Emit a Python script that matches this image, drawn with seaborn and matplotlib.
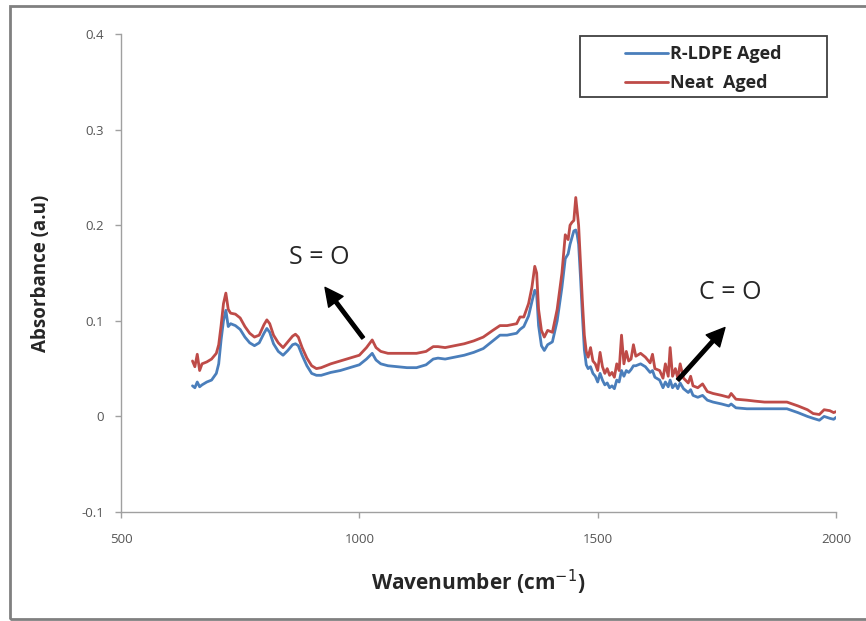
import numpy as np
import pandas as pd
import seaborn as sns
import matplotlib.pyplot as plt
from matplotlib.patches import Rectangle

wavenumber = [650, 655, 660, 665, 670, 680, 690, 700, 705, 710,
              715, 720, 725, 730, 740, 750, 760, 770, 780, 790,
              800, 806, 812, 820, 830, 840, 850, 860, 866, 872,
              880, 890, 900, 910, 920, 940, 960, 980, 1000, 1015,
              1027, 1035, 1045, 1060, 1080, 1100, 1120, 1140, 1155, 1165,
              1180, 1200, 1220, 1240, 1260, 1280, 1295, 1310, 1320, 1330,
              1337, 1345, 1355, 1362, 1368, 1372, 1376, 1382, 1388, 1395,
              1405, 1415, 1425, 1432, 1438, 1442, 1446, 1450, 1454, 1457,
              1460, 1464, 1468, 1472, 1476, 1480, 1485, 1490, 1495, 1500,
              1505, 1510, 1515, 1520, 1525, 1530, 1535, 1540, 1545, 1550,
              1555, 1560, 1565, 1570, 1575, 1580, 1590, 1600, 1610, 1615,
              1620, 1630, 1637, 1642, 1648, 1652, 1657, 1663, 1668, 1673,
              1680, 1690, 1695, 1700, 1710, 1720, 1730, 1742, 1760, 1775,
              1780, 1790, 1813, 1830, 1850, 1870, 1897, 1920, 1940, 1952,
              1965, 1975, 1987, 1995, 2000]

neat_aged = [0.058, 0.052, 0.065, 0.048, 0.055, 0.057, 0.060, 0.066, 0.075, 0.095,
             0.118, 0.129, 0.112, 0.108, 0.107, 0.103, 0.094, 0.087, 0.083, 0.085,
             0.096, 0.101, 0.097, 0.085, 0.077, 0.072, 0.078, 0.084, 0.086, 0.083,
             0.072, 0.061, 0.053, 0.050, 0.051, 0.055, 0.058, 0.061, 0.064, 0.072,
             0.080, 0.072, 0.068, 0.066, 0.066, 0.066, 0.066, 0.068, 0.073, 0.073,
             0.072, 0.074, 0.076, 0.079, 0.083, 0.090, 0.095, 0.095, 0.096, 0.097,
             0.104, 0.104, 0.118, 0.135, 0.157, 0.150, 0.112, 0.090, 0.083, 0.090,
             0.088, 0.112, 0.150, 0.190, 0.185, 0.200, 0.203, 0.205, 0.229, 0.215,
             0.200, 0.160, 0.120, 0.085, 0.068, 0.062, 0.072, 0.058, 0.055, 0.048,
             0.067, 0.052, 0.045, 0.050, 0.043, 0.046, 0.041, 0.055, 0.048, 0.085,
             0.055, 0.068, 0.058, 0.060, 0.075, 0.063, 0.066, 0.062, 0.056, 0.065,
             0.050, 0.048, 0.040, 0.055, 0.042, 0.072, 0.042, 0.050, 0.040, 0.055,
             0.040, 0.035, 0.042, 0.032, 0.030, 0.034, 0.026, 0.024, 0.022, 0.020,
             0.024, 0.018, 0.017, 0.016, 0.015, 0.015, 0.015, 0.011, 0.007, 0.003,
             0.002, 0.007, 0.006, 0.004, 0.005]

rldpe_aged = [0.032, 0.030, 0.036, 0.031, 0.033, 0.036, 0.038, 0.045, 0.055, 0.080,
              0.100, 0.111, 0.094, 0.097, 0.095, 0.091, 0.083, 0.077, 0.074, 0.077,
              0.087, 0.092, 0.088, 0.076, 0.068, 0.064, 0.069, 0.075, 0.076, 0.074,
              0.064, 0.053, 0.045, 0.043, 0.043, 0.046, 0.048, 0.051, 0.054, 0.060,
              0.066, 0.059, 0.055, 0.053, 0.052, 0.051, 0.051, 0.054, 0.060, 0.061,
              0.060, 0.062, 0.064, 0.067, 0.071, 0.079, 0.085, 0.085, 0.086, 0.087,
              0.091, 0.094, 0.105, 0.120, 0.132, 0.128, 0.095, 0.074, 0.069, 0.075,
              0.078, 0.100, 0.135, 0.165, 0.170, 0.180, 0.187, 0.194, 0.195, 0.190,
              0.180, 0.145, 0.105, 0.070, 0.054, 0.050, 0.052, 0.045, 0.042, 0.036,
              0.045, 0.038, 0.033, 0.035, 0.030, 0.032, 0.029, 0.038, 0.036, 0.048,
              0.042, 0.048, 0.046, 0.049, 0.053, 0.053, 0.055, 0.052, 0.046, 0.048,
              0.041, 0.038, 0.030, 0.036, 0.031, 0.038, 0.030, 0.034, 0.029, 0.035,
              0.029, 0.025, 0.028, 0.022, 0.020, 0.022, 0.017, 0.015, 0.013, 0.011,
              0.013, 0.009, 0.008, 0.008, 0.008, 0.008, 0.008, 0.004, 0.000, -0.002,
              -0.004, 0.000, -0.002, -0.003, -0.001]

series_names = ['R-LDPE Aged', 'Neat  Aged']
colors = ['#4a7ebb', '#be4b48']

df = pd.concat([
    pd.DataFrame({'wn': wavenumber, 'abs': rldpe_aged, 'sample': series_names[0]}),
    pd.DataFrame({'wn': wavenumber, 'abs': neat_aged, 'sample': series_names[1]}),
])

sns.set_style('white')
plt.rcParams['font.family'] = ['Open Sans', 'DejaVu Sans']

fig = plt.figure(figsize=(8.66, 6.21), dpi=100)
ax = fig.add_axes([0.1397, 0.1755, 0.8257, 0.7697])

sns.lineplot(data=df, x='wn', y='abs', hue='sample', palette=colors,
             linewidth=2, ax=ax, sort=False)

ax.set_xlim(500, 2000)
ax.set_ylim(-0.1, 0.4)
ax.set_xticks([500, 1000, 1500, 2000])
ax.set_yticks([-0.1, 0, 0.1, 0.2, 0.3, 0.4])
ax.set_yticklabels(['-0.1', '0', '0.1', '0.2', '0.3', '0.4'])
ax.tick_params(axis='both', direction='out', length=4, width=1, color='#a0a0a0',
               labelsize=9.5, labelcolor='#555555', left=True, bottom=True)
ax.tick_params(axis='x', pad=11)
ax.tick_params(axis='y', pad=8)
for s in ['top', 'right']:
    ax.spines[s].set_visible(False)
for s in ['left', 'bottom']:
    ax.spines[s].set_color('#a0a0a0')
    ax.spines[s].set_linewidth(1)

ax.set_xlabel('Wavenumber (cm$^{-1}$)', fontsize=15, fontweight='bold', labelpad=16)
ax.set_ylabel('Absorbance (a.u)', fontsize=13.5, fontweight='bold', labelpad=22)

# arrows for the S=O and C=O bands
arrow = dict(facecolor='black', edgecolor='black', width=2.5, headwidth=13, headlength=13)
ax.annotate('', xy=(928, 0.135), xytext=(1008, 0.082), arrowprops=arrow)
ax.annotate('', xy=(1767, 0.093), xytext=(1668, 0.038), arrowprops=arrow)
ax.text(915, 0.166, 'S = O', fontsize=18, ha='center', va='center')
ax.text(1778, 0.130, 'C = O', fontsize=18, ha='center', va='center')

# legend box drawn by hand, entries without frame
ax.add_patch(Rectangle((0.642, 0.868), 0.3455, 0.1276, transform=ax.transAxes,
                       fill=False, edgecolor='#404040', linewidth=1.3, clip_on=False))
leg = ax.legend(loc='upper left', bbox_to_anchor=(0.705, 0.977), frameon=False,
                handlelength=2.4, handletextpad=0.1, borderpad=0, borderaxespad=0,
                labelspacing=0.6, prop={'weight': 'bold', 'size': 13})
for h in leg.get_lines():
    h.set_linewidth(2)

fig.patches.append(Rectangle((0.012, 0.004), 0.99, 0.986, transform=fig.transFigure,
                             fill=False, edgecolor='#808080', linewidth=2))

fig.savefig('out.png', dpi=100)
